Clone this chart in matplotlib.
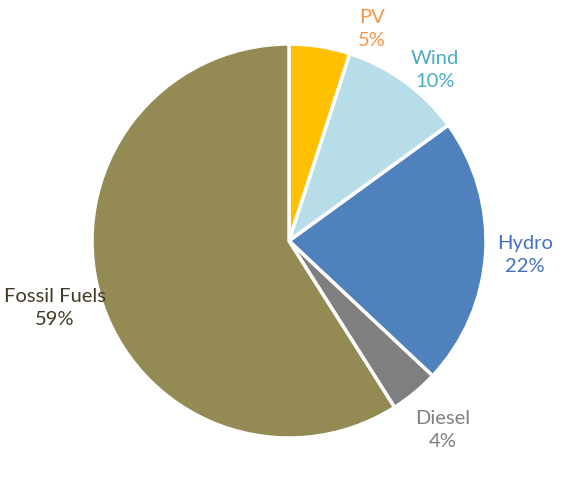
import matplotlib.pyplot as plt

# Data
labels = ["PV", "Wind", "Hydro", "Diesel", "Fossil Fuels"]
shares = [5, 10, 22, 4, 59]
colors = ["#FFC000", "#B7DDE8", "#4F81BD", "#7F7F7F", "#948A54"]
label_colors = ["#F79646", "#4BACC6", "#4472C4", "#7F7F7F", "#403A25"]
# label anchors (data units, pie radius = 1)
label_pos = [(0.421, 1.076), (0.741, 0.868), (1.198, -0.071), (0.782, -0.959), (-1.188, -0.340)]

plt.rcParams['font.family'] = ['Lato', 'DejaVu Sans']

fig = plt.figure(figsize=(5.76, 4.82), dpi=100)
ax = fig.add_axes([0, 0, 1, 1])

ax.pie(shares, colors=colors, startangle=90, counterclock=False,
       radius=1.0, wedgeprops=dict(edgecolor="white", linewidth=2.5))

for lab, val, c, (x, y) in zip(labels, shares, label_colors, label_pos):
    ax.text(x, y, f"{lab}\n{val}%", color=c, fontsize=14.5,
            ha="center", va="center", linespacing=1.45)

ax.set_xlim(-289 / 197, (576 - 289) / 197)
ax.set_ylim(-(482 - 241) / 197, 241 / 197)
ax.set_aspect("auto")
ax.axis("off")

fig.savefig("out.png", dpi=100)
